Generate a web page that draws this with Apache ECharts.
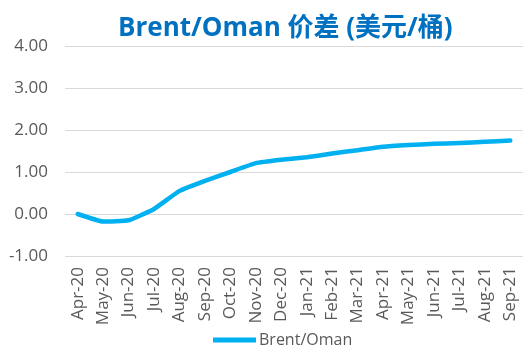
<!DOCTYPE html>
<html>
<head>
<meta charset="utf-8">
<script src="https://cdn.jsdelivr.net/npm/echarts@6/dist/echarts.min.js"></script>
<style>
  html, body { margin: 0; padding: 0; background: #fff; }
  #chart { width: 531px; height: 354px; }
</style>
</head>
<body>
<div id="chart"></div>
<script>
  // 月份
  var months = ['Apr-20', 'May-20', 'Jun-20', 'Jul-20', 'Aug-20', 'Sep-20', 'Oct-20', 'Nov-20', 'Dec-20',
    'Jan-21', 'Feb-21', 'Mar-21', 'Apr-21', 'May-21', 'Jun-21', 'Jul-21', 'Aug-21', 'Sep-21'];
  // 价差
  var spread = [0.00, -0.18, -0.15, 0.12, 0.55, 0.79, 1.00, 1.21, 1.29,
    1.35, 1.44, 1.52, 1.60, 1.64, 1.67, 1.69, 1.72, 1.75];
  var seriesName = 'Brent/Oman';

  var myChart = echarts.init(document.getElementById('chart'));
  var font = '"Open Sans", "Noto Sans CJK SC", sans-serif';

  myChart.setOption({
    animation: false,
    title: {
      text: 'Brent/Oman 价差 (美元/桶)',
      left: 113,
      top: 11,
      textStyle: {
        color: '#0070C0',
        fontSize: 26,
        fontWeight: 'bold',
        fontFamily: font
      }
    },
    legend: {
      top: 327,
      left: 208,
      itemWidth: 43,
      itemHeight: 5,
      itemGap: 10,
      icon: 'rect',
      textStyle: { color: '#595959', fontSize: 16, fontFamily: font, padding: [0, 0, 0, -2] },
      data: [seriesName]
    },
    grid: {
      top: 46,
      left: 65,
      right: 8,
      bottom: 98
    },
    xAxis: {
      type: 'category',
      data: months,
      boundaryGap: true,
      axisLine: { show: false },
      axisTick: { show: false },
      axisLabel: {
        rotate: 90,
        margin: 11,
        interval: 0,
        color: '#595959',
        fontSize: 17,
        fontFamily: font
      }
    },
    yAxis: {
      type: 'value',
      min: -1,
      max: 4,
      interval: 1,
      axisLine: { show: false },
      axisTick: { show: false },
      axisLabel: {
        margin: 17,
        color: '#595959',
        fontSize: 17,
        fontFamily: font,
        formatter: function (v) { return v.toFixed(2); }
      },
      splitLine: { lineStyle: { color: '#D9D9D9', width: 1 } }
    },
    series: [{
      name: seriesName,
      type: 'line',
      data: spread,
      smooth: 0.12,
      showSymbol: false,
      symbol: 'none',
      color: '#00B0F0',
      lineStyle: { width: 4.5, color: '#00B0F0', cap: 'round', join: 'round' }
    }]
  });
</script>
</body>
</html>
